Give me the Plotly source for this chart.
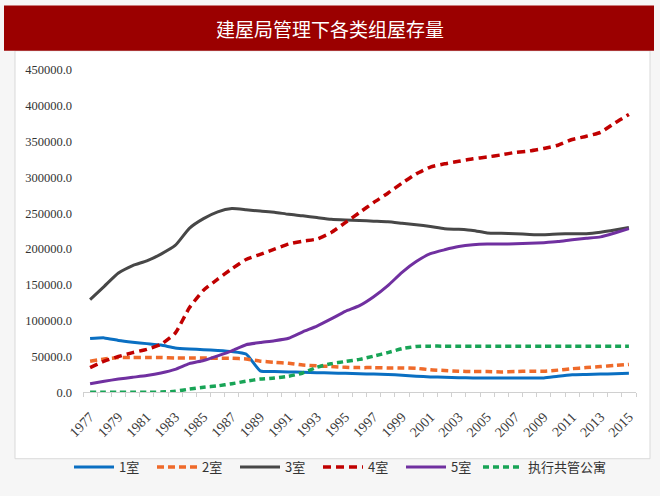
import plotly.graph_objects as go

years = [1977, 1978, 1979, 1980, 1981, 1982, 1983, 1984, 1985, 1986,
         1987, 1988, 1989, 1990, 1991, 1992, 1993, 1994, 1995, 1996,
         1997, 1998, 1999, 2000, 2001, 2002, 2003, 2004, 2005, 2006,
         2007, 2008, 2009, 2010, 2011, 2012, 2013, 2014, 2015]

series_names = ["1室", "2室", "3室", "4室", "5室", "执行共管公寓"]

room1 = [75000, 76000, 72500, 70000, 68000, 66000, 62000, 60500, 59500, 58500,
         57000, 53500, 30000, 29000, 28500, 28000, 27500, 27000, 26500, 26000,
         25500, 25000, 24000, 22500, 21500, 21000, 20500, 20000, 20000, 20000,
         20000, 20000, 20000, 22500, 24500, 25000, 25500, 26000, 26500]
room2 = [43500, 46500, 48500, 48500, 48500, 48500, 48000, 48000, 48000, 47500,
         47500, 46500, 43500, 42000, 40500, 38000, 37000, 36000, 35000, 34500,
         34500, 34000, 34000, 33500, 31500, 30500, 29500, 29000, 29000, 28500,
         29000, 29500, 29500, 31000, 33000, 34500, 36000, 37500, 39000]
room3 = [129500, 148000, 166500, 177000, 183500, 193000, 205000, 229000, 242500, 252000,
         256500, 255000, 253000, 251500, 248500, 246500, 244000, 241500, 240500, 240000,
         239000, 238000, 236000, 234000, 231500, 228500, 227500, 226000, 222500, 222000,
         221500, 220500, 220000, 221000, 221500, 221500, 223500, 226500, 230000]
room4 = [34500, 43500, 50000, 55500, 60000, 67000, 82500, 118000, 142500, 158000,
         172500, 185500, 192500, 200000, 207000, 211000, 214000, 223000, 237000, 251000,
         265000, 278000, 292000, 305000, 314500, 319000, 322500, 326000, 328500, 331500,
         335000, 337000, 340500, 345000, 353000, 357500, 363000, 376000, 388000]
room5 = [12000, 15500, 18500, 21000, 23500, 27000, 32000, 40000, 44500, 51000,
         58000, 66500, 69500, 72000, 75500, 84500, 92500, 102500, 113000, 121000,
         133500, 149000, 167500, 182500, 193500, 199000, 203500, 206000, 207000, 207000,
         207500, 208000, 209000, 210500, 213000, 215000, 217000, 222500, 228500]
condo = [0, 0, 0, 0, 0, 300, 1500, 4500, 7000, 9000,
         12000, 15500, 18500, 20000, 22500, 27000, 35000, 40000, 43000, 46000,
         50500, 55500, 61000, 64000, 64500, 64500, 64500, 64500, 64500, 64500,
         64500, 64500, 64500, 64500, 64500, 64500, 64500, 64500, 64500]

x_ticks = [1977, 1979, 1981, 1983, 1985, 1987, 1989, 1991, 1993, 1995,
           1997, 1999, 2001, 2003, 2005, 2007, 2009, 2011, 2013, 2015]
y_ticks = [0, 50000, 100000, 150000, 200000, 250000, 300000, 350000, 400000, 450000]

styles = [
    dict(color="#0a6fc2", width=3, dash="solid"),
    dict(color="#ef6a2a", width=3.5, dash="7px,4px"),
    dict(color="#474747", width=3, dash="solid"),
    dict(color="#c00000", width=3.5, dash="8px,5px"),
    dict(color="#7030a0", width=3, dash="solid"),
    dict(color="#18a456", width=3.5, dash="6px,4px"),
]
legend_ids = ["legend", "legend", "legend", "legend", "legend", "legend2"]

SERIF = "Liberation Serif"

fig = go.Figure()
for name, vals, st, lg in zip(series_names, [room1, room2, room3, room4, room5, condo], styles, legend_ids):
    fig.add_trace(go.Scatter(
        x=years, y=vals, name=name, mode="lines", legend=lg,
        line=dict(color=st["color"], width=st["width"], dash=st["dash"],
                  shape="spline", smoothing=0.5),
    ))

L, R, T, B = 83, 24, 70, 91
W, H = 660, 496
pw, ph = W - L - R, H - T - B

def px(x):
    return (x - L) / pw

def py(y):
    return (H - B - y) / ph

legend_font = dict(family="Noto Sans CJK SC", size=13, color="#333333")

fig.update_layout(
    width=W, height=H,
    margin=dict(l=L, r=R, t=T, b=B, pad=0),
    paper_bgcolor="#f6f6f6",
    plot_bgcolor="rgba(0,0,0,0)",
    font=dict(family=SERIF, size=12, color="#404040"),
    showlegend=True,
    legend=dict(
        orientation="h", xref="container", yref="container",
        x=69 / W, xanchor="left", y=(H - 467) / H, yanchor="middle",
        font=legend_font, bgcolor="rgba(0,0,0,0)", entrywidth=28, itemwidth=40,
        tracegroupgap=0,
    ),
    legend2=dict(
        orientation="h", xref="container", yref="container",
        x=478 / W, xanchor="left", y=(H - 467) / H, yanchor="middle",
        font=legend_font, bgcolor="rgba(0,0,0,0)", itemwidth=40,
    ),
    xaxis=dict(
        range=[1976.5, 2015.5], tickmode="array", tickvals=x_ticks,
        ticktext=[str(v) for v in x_ticks], tickangle=-45,
        tickfont=dict(family=SERIF, size=14, color="#404040"),
        showline=True, linecolor="#d0d0d0", linewidth=1,
        showgrid=False, zeroline=False, ticks="",
        ticklabelstandoff=10,
        minor=dict(tick0=1976.5, dtick=1, ticks="outside", ticklen=4,
                   tickcolor="#d0d0d0", showgrid=False),
        fixedrange=True,
    ),
    yaxis=dict(
        range=[0, 450000], tickmode="array", tickvals=y_ticks,
        ticktext=["%.1f" % v for v in y_ticks],
        tickfont=dict(family=SERIF, size=12.5, color="#333333"),
        showline=False, showgrid=False, zeroline=False, ticks="",
        ticklabelstandoff=10,
        fixedrange=True,
    ),
    shapes=[
        dict(type="rect", xref="paper", yref="paper", layer="below",
             x0=px(15), x1=px(650), y0=py(474), y1=py(50),
             fillcolor="#ffffff", line=dict(color="#d9d9d9", width=1)),
        dict(type="rect", xref="paper", yref="paper", layer="below",
             x0=px(4), x1=px(654), y0=py(50), y1=py(3),
             fillcolor="#9b0000", line=dict(width=0)),
    ],
    annotations=[
        dict(text="建屋局管理下各类组屋存量", xref="paper", yref="paper",
             x=px(330), y=py(27), showarrow=False, xanchor="center", yanchor="middle",
             font=dict(family="Noto Sans CJK SC", size=19, color="#ffffff")),
    ],
)

fig.write_html("out.html")
